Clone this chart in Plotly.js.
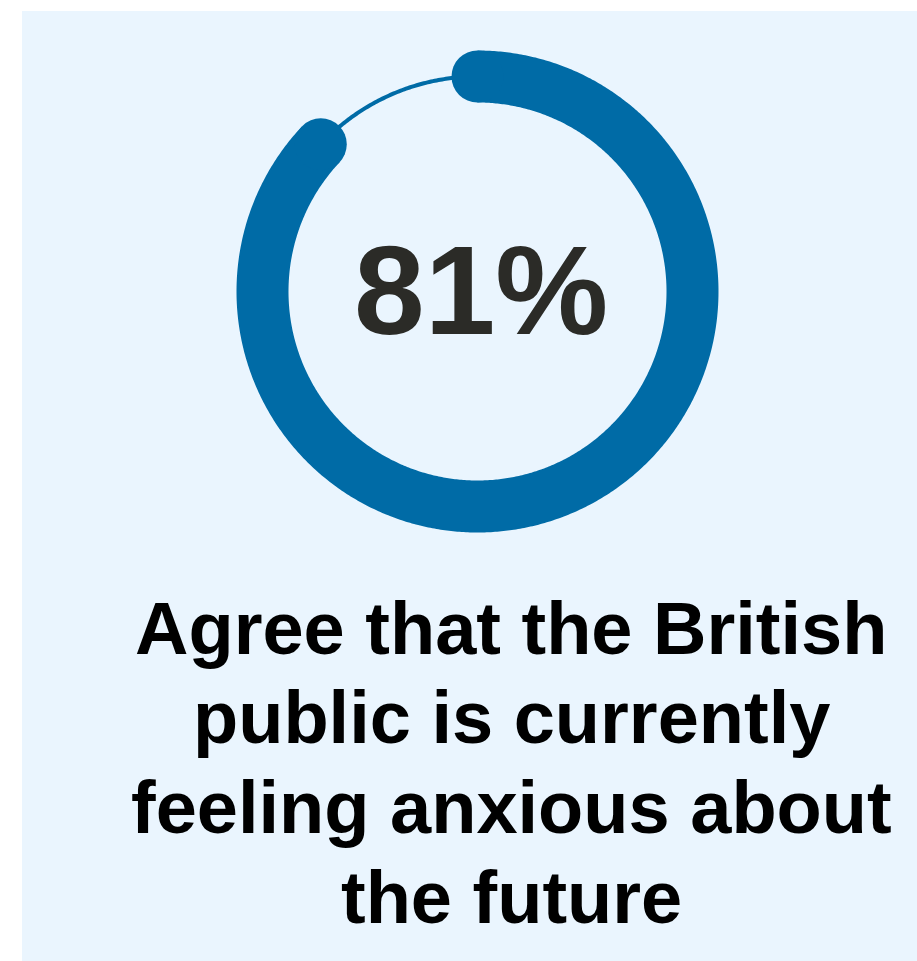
<!DOCTYPE html>
<html>
<head>
<meta charset="utf-8">
<script src="https://cdn.plot.ly/plotly-3.0.1.min.js"></script>
<style>
  html, body { margin: 0; padding: 0; background: #ffffff; }
  #chart { width: 917px; height: 961px; }
</style>
</head>
<body>
<div id="chart"></div>
<script>
// ---- data ----
const agreeLabel = "81%";
const agreePct = 81;             // value shown in the centre
const ringFilledPct = 87;        // share of the ring drawn thick (as drawn in the picture)
const ringRemainderPct = 100 - ringFilledPct;
const captionLines = [
  "Agree that the British",
  "public is currently",
  "feeling anxious about",
  "the future"
];

// ---- styling ----
const W = 917, H = 961;
const ringColor = "#006BA6";
const panelColor = "#EAF5FE";
const cx = 477.5, cy = 291.5;       // ring centre (px)
const R = 250;                      // polar radius (px) == radial range
const ringR = 215;                  // mid radius of the ring
const thick = 52, thin = 4;

function arcThetas(fromPct, toPct) {
  const out = [];
  const a0 = fromPct * 3.6, a1 = toPct * 3.6;
  const n = Math.max(2, Math.ceil((a1 - a0) / 0.5));
  for (let i = 0; i <= n; i++) out.push(a0 + (a1 - a0) * i / n);
  return out;
}
const thFilled = arcThetas(0, ringFilledPct);
const thRest = arcThetas(ringFilledPct, ringFilledPct + ringRemainderPct);

const traces = [
  { type: "scatterpolar", mode: "lines", theta: thRest, r: thRest.map(() => ringR),
    line: { color: ringColor, width: thin }, hoverinfo: "skip", showlegend: false },
  { type: "scatterpolar", mode: "lines", theta: thFilled, r: thFilled.map(() => ringR),
    line: { color: ringColor, width: thick }, hoverinfo: "skip", showlegend: false },
  { type: "scatterpolar", mode: "markers",
    theta: [0, ringFilledPct * 3.6], r: [ringR, ringR],
    marker: { color: ringColor, size: thick, line: { width: 0 } },
    hoverinfo: "skip", showlegend: false }
];

const captionBaselines = [652, 741, 831, 921];
const annotations = [
  { xref: "paper", yref: "paper", x: 481 / W, y: 1 - 290 / H,
    xanchor: "center", yanchor: "middle", showarrow: false,
    text: "<b>" + agreeLabel + "</b>",
    font: { family: "Liberation Sans, Arial, sans-serif", size: 127, color: "#2B2B27" } }
].concat(captionLines.map((t, i) => ({
  xref: "paper", yref: "paper", x: 511 / W, y: 1 - (captionBaselines[i] - 24) / H,
  xanchor: "center", yanchor: "middle", showarrow: false,
  text: "<b>" + t + "</b>",
  font: { family: "Liberation Sans, Arial, sans-serif", size: 74, color: "#000000" }
})));

const layout = {
  width: W, height: H,
  margin: { l: 0, r: 0, t: 0, b: 0 },
  paper_bgcolor: "#ffffff",
  showlegend: false,
  shapes: [
    { type: "rect", xref: "paper", yref: "paper", x0: 22 / W, x1: 1, y0: 0, y1: 1 - 11 / H,
      fillcolor: panelColor, line: { width: 0 }, layer: "below" }
  ],
  polar: {
    domain: { x: [(cx - R) / W, (cx + R) / W], y: [1 - (cy + R) / H, 1 - (cy - R) / H] },
    bgcolor: "rgba(0,0,0,0)",
    radialaxis: { visible: false, range: [0, R] },
    angularaxis: { visible: false, rotation: 90, direction: "clockwise" }
  },
  annotations: annotations
};

Plotly.newPlot("chart", traces, layout, { displayModeBar: false, staticPlot: true });
</script>
</body>
</html>
